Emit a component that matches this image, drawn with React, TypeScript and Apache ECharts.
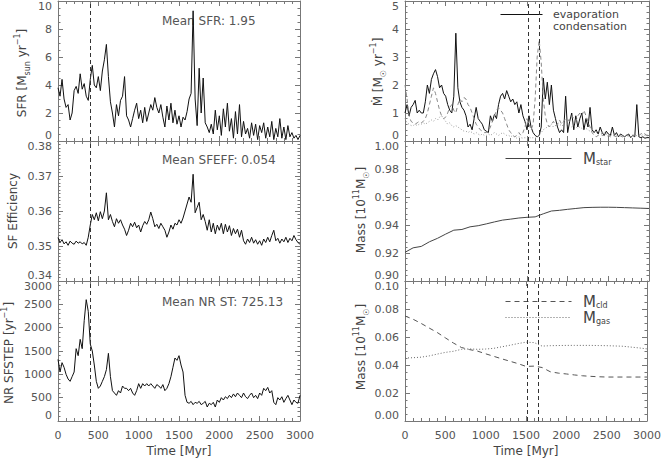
import React, { useEffect, useRef } from "react";
import * as echarts from "echarts";

// sampling grids (Myr)
const SAMPLE_STEP = 25;
const MASS_STEP = 100;

// Star formation rate [Msun/yr], every 25 Myr from 0 to 3000
const sfr = [
  3.8, 3.2, 4.4, 3.0, 2.4, 2.6, 1.5, 2.0, 3.6, 3.9,
  3.4, 4.8, 3.7, 4.1, 3.2, 2.9, 4.4, 5.4, 4.0, 3.8,
  4.6, 3.6, 5.0, 5.8, 6.9, 4.6, 2.8, 2.0, 1.0, 2.6,
  1.8, 2.9, 3.2, 4.6, 1.8, 1.5, 1.0, 1.6, 2.2, 2.7,
  1.6, 2.2, 1.3, 2.4, 1.4, 2.0, 2.6, 2.2, 3.1, 2.4,
  2.0, 2.6, 1.7, 1.0, 2.5, 1.5, 2.7, 1.3, 2.2, 1.2,
  1.8, 1.0, 1.7, 1.5, 2.1, 3.0, 3.4, 9.3, 3.0, 1.1,
  5.2, 2.0, 4.5, 1.3, 1.0, 0.6, 1.2, 0.5, 2.2, 0.8,
  1.8, 0.4, 2.3, 1.0, 2.7, 0.7, 1.6, 0.2, 2.1, 0.5,
  2.6, 0.3, 1.4, 0.5, 0.9, 0.2, 1.3, 0.4, 1.2, 0.1,
  1.1, 0.6, 1.3, 0.2, 1.0, 0.3, 1.4, 0.1, 0.9, 0.3,
  1.6, 0.2, 1.0, 0.1, 1.1, 0.3, 0.6, 0.2, 0.4, 0.1,
  0.4,
];

// SF efficiency, every 25 Myr
const sfEfficiency = [
  0.3524, 0.3510, 0.3518, 0.3506, 0.3512, 0.3502, 0.3514, 0.3508, 0.3505, 0.3514,
  0.3508, 0.3512, 0.3506, 0.3510, 0.3502, 0.3525, 0.3560, 0.3590, 0.3575, 0.3595,
  0.3572, 0.3598, 0.3578, 0.3600, 0.3652, 0.3575, 0.3590, 0.3570, 0.3555, 0.3578,
  0.3565, 0.3575, 0.3560, 0.3548, 0.3530, 0.3545, 0.3565, 0.3555, 0.3568, 0.3552,
  0.3560, 0.3540, 0.3558, 0.3570, 0.3562, 0.3575, 0.3597, 0.3578, 0.3555, 0.3562,
  0.3550, 0.3565, 0.3555, 0.3545, 0.3525, 0.3540, 0.3560, 0.3548, 0.3565, 0.3560,
  0.3575, 0.3565, 0.3580, 0.3600, 0.3620, 0.3640, 0.3625, 0.3705, 0.3595, 0.3610,
  0.3625, 0.3575, 0.3590, 0.3570, 0.3545, 0.3575, 0.3540, 0.3565, 0.3535, 0.3560,
  0.3545, 0.3565, 0.3535, 0.3562, 0.3540, 0.3558, 0.3530, 0.3550, 0.3535, 0.3548,
  0.3525, 0.3545, 0.3515, 0.3505, 0.3520, 0.3510, 0.3525, 0.3508, 0.3518, 0.3505,
  0.3515, 0.3502, 0.3520, 0.3510, 0.3525, 0.3512, 0.3530, 0.3545, 0.3515, 0.3522,
  0.3508, 0.3520, 0.3512, 0.3525, 0.3510, 0.3522, 0.3515, 0.3530, 0.3518, 0.3510,
  0.3505,
];

// number of SF steps [1/yr], every 25 Myr
const nrSfStep = [
  1320, 1050, 1250, 1150, 1000, 900, 850, 950, 1050, 1550,
  1400, 1750, 1550, 2150, 2600, 2350, 1650, 1500, 1200, 850,
  700, 750, 850, 950, 1100, 1450, 950, 650, 600, 550,
  650, 600, 750, 700, 700, 650, 700, 600, 550, 650,
  800, 700, 800, 750, 800, 750, 800, 750, 700, 780,
  750, 700, 780, 650, 700, 800, 950, 1150, 1350, 1300,
  1400, 1200, 1050, 550, 400, 380, 420, 350, 400, 380,
  420, 350, 380, 420, 300, 380, 350, 400, 300, 450,
  400, 500, 450, 520, 480, 550, 500, 580, 520, 600,
  550, 500, 600, 520, 480, 550, 600, 500, 550, 480,
  600, 550, 700, 650, 720, 600, 650, 400, 350, 500,
  450, 520, 400, 480, 550, 450, 350, 450, 400, 380,
  550,
];

// Mdot [Msun/yr], every 25 Myr
const evaporation = [
  1.0, 1.3, 0.9, 1.2, 1.3, 1.45, 1.0, 1.1, 1.0, 1.0,
  1.4, 2.0, 1.7, 2.2, 2.4, 2.55, 2.3, 1.9, 2.0, 1.7,
  1.6, 1.3, 1.1, 1.0, 1.6, 3.85, 1.9, 1.4, 1.2, 1.1,
  0.9, 0.5, 0.6, 0.4, 0.8, 1.2, 0.8, 0.7, 0.6, 0.4,
  0.35, 0.3, 0.9, 0.7, 0.95, 0.8, 1.3, 1.6, 1.7, 1.5,
  1.8, 1.6, 1.4, 1.5, 1.3, 1.4, 1.0, 1.3, 0.9, 0.7,
  0.4, 0.9, 0.5, 0.3, 0.2, 0.15, 0.2, 0.5, 2.25, 1.5,
  2.1, 1.3, 2.0, 1.1, 0.8, 0.5, 0.3, 0.4, 0.3, 1.6,
  0.3, 0.7, 1.0, 0.4, 0.9, 0.5, 0.8, 1.0, 0.4, 0.8,
  0.5, 1.2, 0.4, 0.3, 0.4, 0.25, 0.5, 0.3, 0.2, 0.35,
  0.25, 0.2, 0.5, 0.2, 0.3, 0.15, 0.25, 0.2, 0.15, 0.2,
  0.25, 0.12, 0.2, 0.15, 1.3, 0.15, 0.12, 0.15, 0.1, 0.12,
  0.12,
];

const condensation = [
  2.0, 1.5, 0.9, 0.7, 0.65, 0.6, 0.65, 0.7, 0.65, 0.7,
  0.8, 1.0, 1.3, 1.6, 1.9, 1.7, 1.4, 1.1, 0.9, 0.8,
  0.85, 1.0, 1.2, 1.3, 1.1, 1.0, 1.3, 1.5, 1.4, 1.55,
  1.5, 1.3, 1.2, 1.0, 0.8, 0.6, 0.5, 0.4, 0.35, 0.3,
  0.3, 0.35, 0.5, 0.7, 0.9, 1.1, 1.2, 1.1, 1.0, 0.8,
  0.6, 0.4, 0.3, 0.2, 0.15, 0.2, 0.3, 0.2, 0.3, 0.5,
  0.8, 0.6, 0.4, 0.6, 1.5, 3.0, 3.6, 2.8, 1.5, 0.9,
  0.6, 0.5, 0.6, 0.7, 0.55, 0.6, 0.75, 0.6, 0.7, 0.8,
  0.7, 0.8, 0.9, 0.8, 0.7, 0.9, 1.0, 0.9, 1.1, 0.9,
  0.7, 0.5, 0.3, 0.2, 0.15, 0.2, 0.25, 0.2, 0.2, 0.15,
  0.2, 0.15, 0.2, 0.18, 0.15, 0.2, 0.18, 0.15, 0.2, 0.22,
  0.2, 0.25, 0.2, 0.22, 0.25, 0.2, 0.25, 0.3, 0.25, 0.2,
  0.25,
];

const dottedFlow = [
  0.8, 0.65, 0.6, 0.55, 0.55, 0.6, 0.55, 0.6, 0.6, 0.65,
  0.6, 0.65, 0.7, 0.75, 0.7, 0.8, 0.75, 0.85, 0.9, 0.8,
  0.7, 0.6, 0.65, 0.55, 0.5, 0.55, 0.5, 0.45, 0.4, 0.35,
  0.35, 0.3, 0.35, 0.3, 0.25, 0.3, 0.25, 0.2, 0.25, 0.2,
  0.2, 0.25, 0.2, 0.25, 0.3, 0.25, 0.2, 0.25, 0.3, 0.25,
  0.2, 0.2, 0.15, 0.2, 0.15, 0.1, 0.15, 0.12, 0.1, 0.12,
  0.1, 0.15, 0.1, 0.12, 0.1, 0.15, 0.2, 0.3, 0.4, 0.45,
  0.5, 0.55, 0.6, 0.5, 0.55, 0.6, 0.55, 0.6, 0.5, 0.55,
  0.6, 0.55, 0.5, 0.55, 0.5, 0.45, 0.5, 0.45, 0.4, 0.45,
  0.4, 0.35, 0.4, 0.35, 0.3, 0.35, 0.3, 0.25, 0.3, 0.25,
  0.2, 0.25, 0.2, 0.22, 0.2, 0.18, 0.2, 0.18, 0.2, 0.15,
  0.18, 0.15, 0.18, 0.15, 0.2, 0.18, 0.2, 0.22, 0.2, 0.18,
  0.2,
];

// masses [1e11 Msun], every 100 Myr
const mStar = [
  0.9205, 0.9237, 0.9247, 0.9280, 0.9305, 0.9335, 0.9363, 0.9368, 0.9387, 0.9395,
  0.9408, 0.9422, 0.9435, 0.9442, 0.9450, 0.9455, 0.9458, 0.9480, 0.9500, 0.9505,
  0.9512, 0.9518, 0.9524, 0.9526, 0.9527, 0.9527, 0.9526, 0.9524, 0.9522, 0.9520,
  0.9518,
];
const mCld = [
  0.0750, 0.0727, 0.0697, 0.0664, 0.0632, 0.0594, 0.0557, 0.0525, 0.0510, 0.0499,
  0.0480, 0.0462, 0.0444, 0.0427, 0.0410, 0.0390, 0.0392, 0.0382, 0.0352, 0.0342,
  0.0336, 0.0329, 0.0323, 0.0319, 0.0316, 0.0314, 0.0314, 0.0314, 0.0314, 0.0314,
  0.0314,
];
const mGas = [
  0.0450, 0.0452, 0.0456, 0.0465, 0.0478, 0.0490, 0.0498, 0.0512, 0.0515, 0.0512,
  0.0514, 0.0519, 0.0530, 0.0541, 0.0553, 0.0563, 0.0560, 0.0535, 0.0538, 0.0539,
  0.0540, 0.0540, 0.0540, 0.0540, 0.0539, 0.0538, 0.0536, 0.0534, 0.0528, 0.0522,
  0.0515,
];

const leftMarkTimes = [400];
const rightMarkTimes = [1520, 1650];
const meanTexts = ["Mean SFR: 1.95", "Mean SFEFF: 0.054", "Mean NR ST: 725.13"];

const toPairs = (vals: number[], step: number) => vals.map((v, i) => [i * step, v]);

const FONT = "DejaVu Sans";
const AXIS_COLOR = "#777";
const LABEL_COLOR = "#555";
const NAME_COLOR = "#444";

const PANELS = [
  { left: 58, top: 1, width: 242, height: 140 },
  { left: 58, top: 141, width: 242, height: 140 },
  { left: 58, top: 281, width: 242, height: 140 },
  { left: 405, top: 1, width: 244, height: 140 },
  { left: 405, top: 141, width: 244, height: 140 },
  { left: 405, top: 281, width: 244, height: 140 },
];

const Y_SPECS = [
  { min: 0, max: 10, interval: 2, minor: 4, dec: 0 },
  { min: 0.34, max: 0.38, interval: 0.01, minor: 10, dec: 2 },
  { min: 0, max: 3000, interval: 500, minor: 5, dec: 0 },
  { min: 0, max: 5, interval: 1, minor: 5, dec: 0 },
  { min: 0.9, max: 1.0, interval: 0.02, minor: 5, dec: 2 },
  { min: 0, max: 0.1, interval: 0.02, minor: 4, dec: 2 },
];

const lineStyleAxis = { color: AXIS_COLOR, width: 1 };

function buildOption() {
  const xAxis: any[] = [];
  const yAxis: any[] = [];
  PANELS.forEach((_, p) => {
    const isBottom = p === 2 || p === 5;
    ["bottom", "top"].forEach((pos) => {
      xAxis.push({
        type: "value",
        gridIndex: p,
        position: pos,
        min: 0,
        max: 3000,
        interval: 500,
        axisLine: { show: true, onZero: false, lineStyle: lineStyleAxis },
        axisTick: { show: true, inside: true, length: 5, lineStyle: lineStyleAxis },
        minorTick: { show: true, splitNumber: 5, length: 3, lineStyle: lineStyleAxis },
        splitLine: { show: false },
        axisLabel: {
          show: isBottom && pos === "bottom",
          margin: 9,
          fontSize: 11,
          fontFamily: FONT,
          color: LABEL_COLOR,
          formatter: (v: number) => String(Math.round(v)),
        },
        name: isBottom && pos === "bottom" ? "Time [Myr]" : "",
        nameLocation: "middle",
        nameGap: 24,
        nameTextStyle: { fontSize: 12, fontFamily: FONT, color: NAME_COLOR },
      });
    });
    const ys = Y_SPECS[p];
    ["left", "right"].forEach((pos) => {
      yAxis.push({
        type: "value",
        gridIndex: p,
        position: pos,
        min: ys.min,
        max: ys.max,
        interval: ys.interval,
        axisLine: { show: true, onZero: false, lineStyle: lineStyleAxis },
        axisTick: { show: true, inside: true, length: 5, lineStyle: lineStyleAxis },
        minorTick: { show: true, splitNumber: ys.minor, length: 2.5, lineStyle: lineStyleAxis },
        splitLine: { show: false },
        axisLabel: {
          show: pos === "left",
          margin: 6,
          fontSize: 11,
          fontFamily: FONT,
          color: LABEL_COLOR,
          verticalAlignMinLabel: "bottom",
          verticalAlignMaxLabel: "top",
          formatter: (v: number) => v.toFixed(ys.dec),
        },
      });
    });
  });

  const markLine = (times: number[]) => ({
    silent: true,
    symbol: ["none", "none"],
    label: { show: false },
    lineStyle: { type: [4, 3], color: "#333", width: 1 },
    emphasis: { disabled: true },
    data: times.map((t) => ({ xAxis: t })),
  });

  const line = (
    name: string,
    p: number,
    data: number[][],
    color: string,
    type: any,
    marks?: number[]
  ) => ({
    type: "line",
    name,
    xAxisIndex: p * 2,
    yAxisIndex: p * 2,
    data,
    symbol: "none",
    showSymbol: false,
    color,
    lineStyle: { color, width: 1, type },
    emphasis: { disabled: true },
    silent: true,
    ...(marks ? { markLine: markLine(marks) } : {}),
  });

  const series = [
    line("SFR", 0, toPairs(sfr, SAMPLE_STEP), "#111", "solid", leftMarkTimes),
    line("SF Efficiency", 1, toPairs(sfEfficiency, SAMPLE_STEP), "#111", "solid", leftMarkTimes),
    line("NR SFSTEP", 2, toPairs(nrSfStep, SAMPLE_STEP), "#111", "solid", leftMarkTimes),
    line("evaporation", 3, toPairs(evaporation, SAMPLE_STEP), "#111", "solid", rightMarkTimes),
    line("condensation", 3, toPairs(condensation, SAMPLE_STEP), "#888", [4, 3]),
    line("dotted", 3, toPairs(dottedFlow, SAMPLE_STEP), "#999", [1, 2]),
    line("Mstar", 4, toPairs(mStar, MASS_STEP), "#444", "solid", rightMarkTimes),
    line("Mcld", 5, toPairs(mCld, MASS_STEP), "#555", [5, 4], rightMarkTimes),
    line("Mgas", 5, toPairs(mGas, MASS_STEP), "#666", [1, 2]),
  ];

  const massRich = {
    g: { fontSize: 13, fontFamily: FONT, color: NAME_COLOR },
    m: { fontSize: 15, fontFamily: FONT, color: NAME_COLOR, lineHeight: 15, verticalAlign: "middle" },
    s: { fontSize: 8, fontFamily: FONT, color: NAME_COLOR, verticalAlign: "bottom" },
  };
  const massFmt = (name: string) =>
    name === "Mstar"
      ? "{g|\u2002}{m|M}{s|star}"
      : name === "Mcld"
      ? "{g|\u2002}{m|M}{s|cld}"
      : "{g|\u2002}{m|M}{s|gas}";

  const flowRich = {
    t: { fontSize: 11, fontFamily: FONT, color: NAME_COLOR },
  };

  const hiddenSymbol = { color: "rgba(0,0,0,0)", borderWidth: 0, opacity: 0 };
  const legendLine = { width: 1 };

  const legend = [
    {
      left: 500,
      top: 9,
      padding: 0,
      orient: "vertical",
      itemWidth: 42,
      itemHeight: 12,
      itemGap: 0,
      selectedMode: false,
      itemStyle: hiddenSymbol,
      lineStyle: legendLine,
      data: [{ name: "evaporation" }, { name: "condensation", icon: "none" }],
      formatter: (name: string) => `{t|\u2002${name}}`,
      textStyle: { rich: flowRich },
    },
    {
      left: 505,
      top: 151,
      padding: 0,
      orient: "vertical",
      itemWidth: 66,
      itemHeight: 14,
      selectedMode: false,
      itemStyle: hiddenSymbol,
      lineStyle: legendLine,
      data: ["Mstar"],
      formatter: massFmt,
      textStyle: { rich: massRich },
    },
    {
      left: 505,
      top: 294,
      padding: 0,
      orient: "vertical",
      itemWidth: 66,
      itemHeight: 14,
      itemGap: 1,
      selectedMode: false,
      itemStyle: hiddenSymbol,
      lineStyle: legendLine,
      data: ["Mcld", "Mgas"],
      formatter: massFmt,
      textStyle: { rich: massRich },
    },
  ];

  const nameRich = {
    n: { fontSize: 12, fontFamily: FONT, fill: NAME_COLOR, lineHeight: 18, verticalAlign: "middle" },
    sub: { fontSize: 8, fontFamily: FONT, fill: NAME_COLOR, verticalAlign: "bottom" },
    sup: { fontSize: 8, fontFamily: FONT, fill: NAME_COLOR, verticalAlign: "top" },
  };
  const yName = (x: number, y: number, text: string) => ({
    type: "text",
    x,
    y,
    rotation: Math.PI / 2,
    silent: true,
    style: { text, rich: nameRich, align: "center", verticalAlign: "middle", fill: NAME_COLOR },
  });
  const meanText = (y: number, text: string) => ({
    type: "text",
    x: 162,
    y,
    silent: true,
    style: {
      text,
      fontSize: 12,
      fontFamily: FONT,
      fill: LABEL_COLOR,
      align: "left",
      verticalAlign: "middle",
    },
  });

  const graphic = [
    yName(22, 73, "{n|SFR [M}{sub|sun}{n| yr}{sup|−1}{n|]}"),
    yName(13, 211, "{n|SF Efficiency}"),
    yName(9, 353, "{n|NR SFSTEP [yr}{sup|−1}{n|]}"),
    yName(378, 72, "{n|Ṁ [M}{sub|☉}{n| yr}{sup|−1}{n|]}"),
    yName(361, 210, "{n|Mass [10}{sup|11}{n|M}{sub|☉}{n|]}"),
    yName(361, 347, "{n|Mass [10}{sup|11}{n|M}{sub|☉}{n|]}"),
    meanText(21, meanTexts[0]),
    meanText(160, meanTexts[1]),
    meanText(302, meanTexts[2]),
  ];

  return {
    animation: false,
    backgroundColor: "#fff",
    textStyle: { fontFamily: FONT },
    grid: PANELS.map((g) => ({ ...g, containLabel: false })),
    xAxis,
    yAxis,
    series,
    legend,
    graphic,
  };
}

export default function App() {
  const ref = useRef<HTMLDivElement>(null);
  useEffect(() => {
    if (!ref.current) return;
    const chart = echarts.init(ref.current, null, { renderer: "svg" });
    chart.setOption(buildOption() as any);
    return () => chart.dispose();
  }, []);
  return (
    <div
      ref={ref}
      style={{ position: "fixed", left: 0, top: 0, width: 664, height: 458, background: "#fff" }}
    />
  );
}
